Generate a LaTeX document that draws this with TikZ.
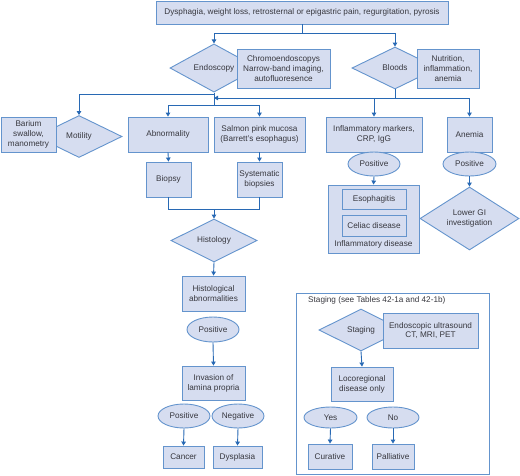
\documentclass[tikz,border=0pt]{standalone}
\usepackage{fontspec}
\setmainfont{Liberation Sans}
\usetikzlibrary{shapes.geometric,arrows.meta}
\definecolor{boxfill}{RGB}{214,221,240}
\definecolor{boxline}{RGB}{100,148,205}
\definecolor{conn}{RGB}{40,105,180}
\definecolor{txt}{RGB}{55,55,62}
\tikzset{
  base/.style={draw=boxline, fill=boxfill, line width=0.9pt, text=txt,
    font=\fontsize{8.2}{9.8}\selectfont, align=center, inner sep=0pt},
  box/.style={base, rectangle},
  dia/.style={base, diamond},
  ell/.style={base, ellipse},
  frame/.style={draw=boxline, line width=0.9pt},
  lbl/.style={text=txt, font=\fontsize{8.2}{9.8}\selectfont, inner sep=0pt},
  line/.style={draw=conn, line width=0.9pt},
  arr/.style={line, -{Triangle[width=4.5pt,length=4pt]}},
}
\newcommand{\bx}[6]{\node[#1, minimum width=#4pt, minimum height=#5pt] (#2) at (#3) {#6};}
\begin{document}
\begin{tikzpicture}[x=1pt,y=-1pt]
\useasboundingbox (0,0) rectangle (520,475);
% top
\bx{box}{top}{302,12.5}{292}{23}{Dysphagia, weight loss, retrosternal or epigastric pain, regurgitation, pyrosis}
% second row
\bx{dia}{endo}{214,68}{88}{42}{Endoscopy}
\bx{box}{chromo}{283.5,68.5}{93}{39}{Chromoendoscopys\\Narrow-band imaging,\\autofluoresence}
\bx{dia}{blood}{395,68}{86}{42}{Bloods}
\bx{box}{nutri}{448,68.5}{62}{39}{Nutrition,\\inflammation,\\anemia}
% third row
\bx{dia}{mot}{79,136.5}{86}{42}{Motility}
\bx{box}{bar}{28.5,134.5}{55}{35}{Barium\\swallow,\\manometry}
\bx{box}{abn}{168,134.5}{80}{35}{Abnormality}
\bx{box}{salm}{259.5,134.5}{91}{35}{Salmon pink mucosa\\(Barrett's esophagus)}
\bx{box}{inflm}{374,134.5}{96}{35}{Inflammatory markers,\\CRP, IgG}
\bx{box}{anem}{469.5,134.5}{45}{35}{Anemia}
% biopsies
\bx{box}{biop}{168.5,179.5}{45}{35}{Biopsy}
\bx{box}{sysb}{259.5,179.5}{45}{35}{Systematic\\biopsies}
% histology branch
\bx{dia}{hist}{214,240.5}{86}{43}{Histology}
\bx{box}{histab}{213.5,293.5}{63}{35}{Histological\\abnormalities}
\bx{ell}{pos1}{213,329.5}{52}{25}{Positive}
\bx{box}{inv}{213.5,383}{63}{34}{Invasion of\\lamina propria}
\bx{ell}{pos2}{184,416}{52}{24}{Positive}
\bx{ell}{neg}{238,416}{52}{24}{Negative}
\bx{box}{canc}{183.5,457}{41}{22}{Cancer}
\bx{box}{dysp}{237.5,457}{49}{22}{Dysplasia}
% inflammatory / anemia branch
\bx{ell}{pos3}{374,164}{52}{24}{Positive}
\bx{ell}{pos4}{469.5,164}{53}{24}{Positive}
\bx{box}{infd}{373.5,219}{91}{68}{}
\bx{box}{esop}{374,199}{64}{20}{Esophagitis}
\bx{box}{celi}{374,225.5}{64}{21}{Celiac disease}
\node[lbl] (infdl) at (373.5,244) {Inflammatory disease};
\bx{dia}{lgi}{469.5,218.5}{99}{63}{Lower GI\\investigation}
% staging
\node[frame, minimum width=193pt, minimum height=181pt, inner sep=0pt] (sfr) at (392.5,383.5) {};
\node[lbl, anchor=west] (sfrl) at (308,300) {Staging (see Tables 42-1a and 42-1b)};
\bx{dia}{stag}{361,330}{84}{42}{Staging}
\bx{box}{endus}{430.5,330.5}{95}{35}{Endoscopic ultrasound\\CT, MRI, PET}
\bx{box}{loco}{362,384}{62}{34}{Locoregional\\disease only}
\bx{ell}{yes}{330.5,417.5}{53}{21}{Yes}
\bx{ell}{no}{393,417.5}{52}{21}{No}
\bx{box}{cur}{330,456.5}{44}{25}{Curative}
\bx{box}{pall}{393,456.5}{42}{25}{Palliative}
% connectors
\coordinate (j1) at (302,33);
\draw[line] (top.south) -- (j1);
\draw[arr] (j1) -| (endo.north);
\draw[arr] (j1) -| (blood.north);
\coordinate (e1) at (214,94);
\coordinate (e2) at (214,105);
\draw[line] (endo.south) -- (e2);
\draw[arr] (e1) -| (mot.north);
\draw[arr] (e2) -| (abn.north);
\draw[arr] (e2) -| (salm.north);
\coordinate (b1) at (395,98);
\draw[line] (blood.south) -- (b1);
\draw[arr] (b1) -- (endo.south |- b1);
\draw[arr] (b1) -| (anem.north);
\draw[arr] (inflm.north |- b1) -- (inflm.north);
\draw[arr] (abn.south) -- (biop.north);
\draw[arr] (salm.south) -- (sysb.north);
\coordinate (h1) at (214,209);
\draw[line] (biop.south) -- (biop.south |- h1) -- (sysb.south |- h1) -- (sysb.south);
\draw[arr] (h1) -- (hist.north);
\draw[arr] (hist.south) -- (histab.north);
\draw[arr] (pos1.south) -- (inv.north);
\draw[arr] (pos2.south) -- (canc.north);
\draw[arr] (neg.south) -- (dysp.north);
\draw[arr] (pos3.south) -- (infd.north);
\draw[arr] (pos4.south) -- (lgi.north);
\draw[arr] (stag.south) -- (loco.north);
\draw[arr] (yes.south) -- (cur.north);
\draw[arr] (no.south) -- (pall.north);
\end{tikzpicture}
\end{document}
